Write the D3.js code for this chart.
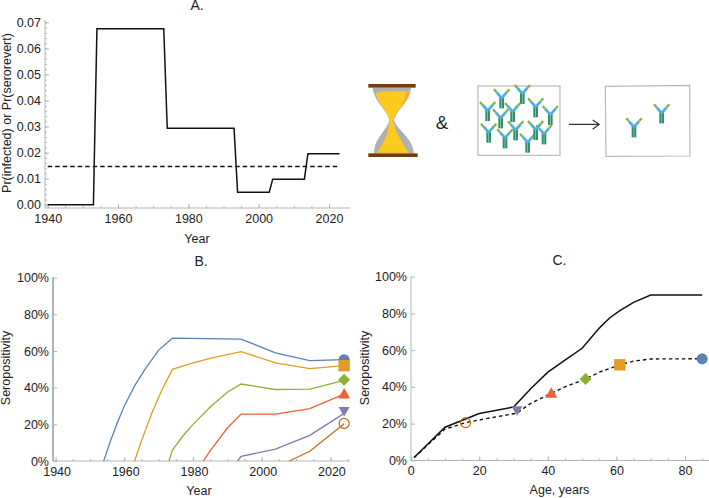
<!DOCTYPE html>
<html>
<head>
<meta charset="utf-8">
<script src="https://cdn.jsdelivr.net/npm/d3@7"></script>
<style>
  html, body { margin: 0; padding: 0; background: #fff; overflow: hidden; }
  text { font-family: "Liberation Sans", Arial, sans-serif; fill: #222; }
  .axis path, .axis line { stroke: #b4b4b4; }
  .axis text { font-size: 12.5px; fill: #222; font-family: "Liberation Sans", Arial, sans-serif; }
</style>
</head>
<body>
<div id="wrapper"></div>
<script>
// panel A: infection probability per year
const stepYears = [1940, 1953, 1954, 1973, 1974, 1993, 1994, 2003, 2004, 2013, 2014, 2023];
const stepProb = [0, 0, 0.0675, 0.0675, 0.0293, 0.0293, 0.0048, 0.0048, 0.0098, 0.0098, 0.0196, 0.0196];
const revertYears = [1940, 2023];
const revertProb = [0.0147, 0.0147];

// panel B: seropositivity per birth cohort
const blueYears = [1954, 1956, 1958, 1960, 1963, 1966, 1970, 1974, 1994, 2004, 2014, 2024];
const blueVals = [0, 11, 21, 30, 41, 50, 60.5, 67, 66.5, 59, 54.8, 55.3];
const orangeYears = [1963, 1965, 1968, 1971, 1974, 1980, 1985, 1994, 2004, 2014, 2024];
const orangeVals = [0, 11, 26, 39, 50, 53.5, 56, 59.7, 53.5, 50.4, 52];
const greenYears = [1973, 1974, 1977, 1980, 1985, 1990, 1994, 2004, 2014, 2024];
const greenVals = [0, 6, 13.5, 20, 29.5, 37.5, 42, 39, 39.2, 44];
const redYears = [1983, 1985, 1990, 1994, 2004, 2014, 2024];
const redVals = [0, 5.5, 18, 25.6, 25.6, 28.6, 36.5];
const purpleYears = [1993, 1994, 2004, 2014, 2024];
const purpleVals = [0, 2.5, 6.5, 14, 26];
const brownYears = [2008, 2014, 2024];
const brownVals = [0, 5.3, 20.3];

const cohortColors = ["#5e81b5", "#e19c24", "#8fb032", "#eb6235", "#8778b3", "#c56e1a"];
const cohortShapes = ["circle", "square", "diamond", "up", "down", "open"];
const markerYear = 2024;
const markerVals = [55.3, 52, 44.3, 36.5, 27, 20.5];

// panel C: seropositivity by age
const modelAges = [1, 10, 20, 30, 35, 40, 45, 50, 55, 58, 61, 65, 70, 85];
const noRevert = [1.5, 18, 25.5, 29, 39, 48, 54.5, 61, 72, 77.5, 81.5, 86, 90, 90];
const dashAges = [1, 10, 16, 20, 31, 35, 41, 45, 51, 55, 61, 65, 70, 85];
const withRevert = [1.5, 17, 20.5, 22, 25.7, 31, 36.5, 40, 44.3, 48, 52, 54, 55.2, 55.3];
const markerAges = [85, 61, 51, 41, 31, 16];

const width = 709;
const height = 498;

const wrapper = d3.select("#wrapper")
  .append("svg")
  .attr("width", width)
  .attr("height", height);

// mathematica style axes: inward ticks, short minor ones without labels
function drawAxes(o) {
  const bottom = wrapper.append("g").attr("class", "axis")
    .attr("transform", `translate(0,${o.axisY})`);
  bottom.call(d3.axisBottom(o.x).tickValues(o.xMinor).tickSize(-2).tickSizeOuter(0).tickFormat(""));
  bottom.select(".domain").remove();
  const bottomMajor = wrapper.append("g").attr("class", "axis")
    .attr("transform", `translate(0,${o.axisY})`);
  bottomMajor.call(d3.axisBottom(o.x).tickValues(o.xMajor).tickSize(-4).tickSizeOuter(0).tickPadding(o.xPad).tickFormat(o.xFormat || d3.format("d")));
  bottomMajor.select(".domain").remove();
  bottomMajor.selectAll("text").attr("dx", o.xDx || 0);
  bottomMajor.append("line")
    .attr("x1", o.axisX).attr("x2", o.axisEnd);

  const left = wrapper.append("g").attr("class", "axis")
    .attr("transform", `translate(${o.axisX},0)`);
  left.call(d3.axisLeft(o.y).tickValues(o.yMinor).tickSize(-2).tickSizeOuter(0).tickFormat(""));
  left.select(".domain").remove();
  const leftMajor = wrapper.append("g").attr("class", "axis")
    .attr("transform", `translate(${o.axisX},0)`);
  leftMajor.call(d3.axisLeft(o.y).tickValues(o.yMajor).tickSize(-4).tickSizeOuter(0).tickPadding(4).tickFormat(o.yFormat));
  leftMajor.select(".domain").remove();
  leftMajor.append("line")
    .attr("y1", o.axisTop).attr("y2", o.axisY)
    .attr("stroke-width", o.yWidth || 1);

  wrapper.append("text").attr("x", o.titleX).attr("y", o.titleY)
    .attr("text-anchor", "middle").attr("font-size", 14).text(o.title);
  wrapper.append("text").attr("x", o.xLabelX).attr("y", o.xLabelY)
    .attr("text-anchor", "middle").attr("font-size", 12.5).text(o.xLabel);
  wrapper.append("text")
    .attr("transform", `translate(${o.yLabelX},${o.yLabelY}) rotate(-90)`)
    .attr("text-anchor", "middle").attr("font-size", 12.5).text(o.yLabel);
}

const range = (a, b, s) => d3.range(a, b + s / 2, s);
const pairs = (xs, ys) => xs.map((d, i) => [d, ys[i]]);

// 1. panel A
const xA = d3.scaleLinear().domain([1940, 2020]).range([47.7, 329]);
const yA = d3.scaleLinear().domain([0, 0.07]).range([204.7, 22.3]);
drawAxes({
  x: xA, y: yA, axisX: 45, axisEnd: 350, axisY: 208, axisTop: 20, xPad: 6,
  xMajor: range(1940, 2020, 20), xMinor: range(1940, 2020, 5),
  yMajor: range(0, 0.07, 0.01), yMinor: range(0, 0.07, 0.002),
  yFormat: d3.format(".2f"),
  title: "A.", titleX: 197, titleY: 10,
  xLabel: "Year", xLabelX: 197, xLabelY: 243,
  yLabel: "Pr(infected) or Pr(serorevert)", yLabelX: 11, yLabelY: 113,
});
const lineA = d3.line().x((d) => xA(d[0])).y((d) => yA(d[1]));
wrapper.append("path").datum(pairs(stepYears, stepProb))
  .attr("d", lineA).attr("fill", "none").attr("stroke", "#111").attr("stroke-width", 1.5);
wrapper.append("path").datum(pairs(revertYears, revertProb))
  .attr("d", lineA).attr("fill", "none").attr("stroke", "#111").attr("stroke-width", 1.5)
  .attr("stroke-dasharray", "4.5,3");

// 2. panel B
const xB = d3.scaleLinear().domain([1940, 2020]).range([55.6, 330.4]);
const yB = d3.scaleLinear().domain([0, 100]).range([461, 277.7]);
const pct = (d) => d + "%";
drawAxes({
  x: xB, y: yB, axisX: 53, axisEnd: 350, axisY: 461, axisTop: 277, xPad: 6, xDx: 1,
  yWidth: 2,
  xMajor: range(1940, 2020, 20), xMinor: range(1940, 2025, 5),
  yMajor: range(0, 100, 20), yMinor: [],
  yFormat: pct,
  title: "B.", titleX: 201, titleY: 266,
  xLabel: "Year", xLabelX: 199, xLabelY: 495,
  yLabel: "Seropositivity", yLabelX: 10, yLabelY: 368,
});
const lineB = d3.line().x((d) => xB(d[0])).y((d) => yB(d[1]));
const cohorts = [
  pairs(blueYears, blueVals), pairs(orangeYears, orangeVals), pairs(greenYears, greenVals),
  pairs(redYears, redVals), pairs(purpleYears, purpleVals), pairs(brownYears, brownVals),
];
wrapper.append("g").selectAll("path").data(cohorts).join("path")
  .attr("d", lineB).attr("fill", "none").attr("stroke-width", 1.3)
  .attr("stroke", (d, i) => cohortColors[i]);

function drawMarker(px, py, i) {
  const s = cohortShapes[i];
  const c = cohortColors[i];
  const g = wrapper.append("g").attr("transform", `translate(${px},${py})`);
  if (s === "circle") g.append("circle").attr("r", 5.5).attr("fill", c);
  if (s === "open") g.append("circle").attr("r", 5).attr("fill", "none").attr("stroke", c).attr("stroke-width", 1.2);
  if (s === "square") g.append("path").attr("d", d3.symbol(d3.symbolSquare, 130)()).attr("fill", c);
  if (s === "diamond") g.append("path").attr("d", "M0,-6L6,0L0,6L-6,0Z").attr("fill", c);
  if (s === "up") g.append("path").attr("d", "M0,-6L6,4.5L-6,4.5Z").attr("fill", c);
  if (s === "down") g.append("path").attr("d", "M0,5L5.5,-4.5L-5.5,-4.5Z").attr("fill", c);
}
markerVals.forEach((v, i) => drawMarker(xB(markerYear), yB(v), i));

// 3. panel C
const xC = d3.scaleLinear().domain([0, 80]).range([410.7, 685]);
const yC = d3.scaleLinear().domain([0, 100]).range([460.3, 276.7]);
drawAxes({
  x: xC, y: yC, axisX: 411, axisEnd: 709, axisY: 460.5, axisTop: 276, xPad: 6,
  xMajor: range(0, 80, 20), xMinor: range(0, 85, 5),
  yMajor: range(0, 100, 20), yMinor: [],
  yFormat: pct,
  title: "C.", titleX: 559.5, titleY: 265,
  xLabel: "Age, years", xLabelX: 559.5, xLabelY: 494,
  yLabel: "Seropositivity", yLabelX: 369, yLabelY: 368,
});
const lineC = d3.line().x((d) => xC(d[0])).y((d) => yC(d[1]));
wrapper.append("path").datum(pairs(modelAges, noRevert))
  .attr("d", lineC).attr("fill", "none").attr("stroke", "#111").attr("stroke-width", 1.5);
wrapper.append("path").datum(pairs(dashAges, withRevert))
  .attr("d", lineC).attr("fill", "none").attr("stroke", "#111").attr("stroke-width", 1.4)
  .attr("stroke-dasharray", "3.5,3");
markerVals.forEach((v, i) => drawMarker(xC(markerAges[i]), yC(v), i));

// 4. the little drawing between the panels, laid out in 3x zoomed units
const art = wrapper.append("g").attr("transform", "translate(350,60) scale(0.3333)");

art.append("path")
  .attr("d", "M68,83 C72,125 112,150 118,180 C112,212 74,230 72,280 L192,280 C188,232 140,210 132,180 C140,150 180,125 183,83 Z")
  .attr("fill", "#b0b0b0");
art.append("path")
  .attr("d", "M78,100 C100,88 150,98 180,92 C178,130 135,150 130,180 C134,215 160,255 176,278 L80,278 C100,255 118,215 118,180 C112,150 82,130 78,100 Z")
  .attr("fill", "#fdcb1f");
art.append("path")
  .attr("d", "M178,94 C176,118 160,130 152,140 C162,125 166,110 168,96 Z")
  .attr("fill", "#f3a74a");
art.append("rect").attr("x", 55).attr("y", 72).attr("width", 142).attr("height", 11).attr("fill", "#6f3f12");
art.append("rect").attr("x", 55).attr("y", 280).attr("width", 148).attr("height", 11).attr("fill", "#6f3f12");

art.append("text").attr("x", 276).attr("y", 207).attr("text-anchor", "middle")
  .attr("font-size", 56).attr("fill", "#111").text("&");

art.append("rect").attr("x", 384).attr("y", 78).attr("width", 246).attr("height", 208)
  .attr("fill", "#fff").attr("stroke", "#b8b8b8").attr("stroke-width", 3.5);
art.append("path").attr("d", "M766,79 L1019,76 L1020,288 L768,289 Z")
  .attr("fill", "#fff").attr("stroke", "#b8b8b8").attr("stroke-width", 3.5);
art.append("path").attr("d", "M657,193 H747 M728,180 L748,193 L728,208")
  .attr("fill", "none").attr("stroke", "#333").attr("stroke-width", 3.5);

const antibodies = [
  [455, 145], [517, 132], [557, 172], [601, 195], [413, 183], [452, 205], [488, 186],
  [416, 248], [465, 265], [497, 241], [533, 278], [557, 240], [582, 253], [852, 232], [935, 190],
];
function drawAntibody(bx, by) {
  const g = art.append("g").attr("transform", `translate(${bx},${by})`);
  g.append("rect").attr("x", -7).attr("y", -34).attr("width", 14).attr("height", 34).attr("fill", "#2f8f6b");
  g.append("rect").attr("x", -1).attr("y", -34).attr("width", 2).attr("height", 34).attr("fill", "#a8d8c0");
  g.append("path").attr("d", "M0,-31 L-15,-48 M0,-31 L15,-48")
    .attr("stroke", "#4fb0df").attr("stroke-width", 8).attr("fill", "none");
  g.append("path").attr("d", "M-15,-48 L-23,-57 M15,-48 L23,-57")
    .attr("stroke", "#7db548").attr("stroke-width", 7).attr("fill", "none");
}
antibodies.forEach((d) => drawAntibody(d[0], d[1]));
</script>
</body>
</html>
